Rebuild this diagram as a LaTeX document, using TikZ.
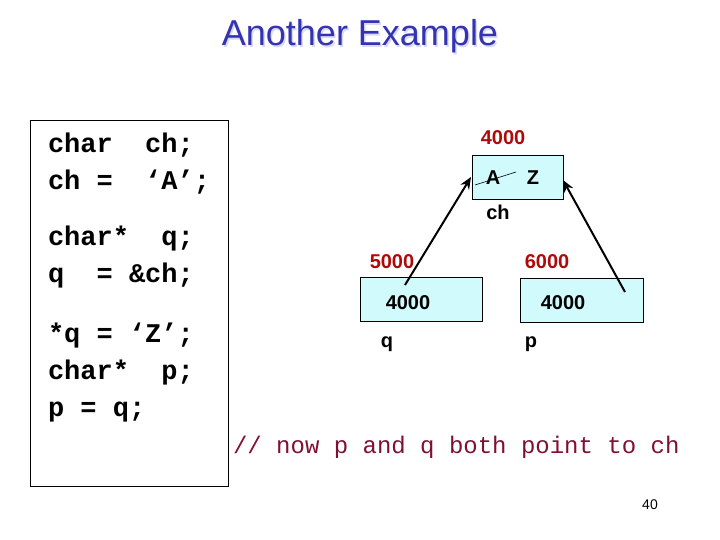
\documentclass[tikz,border=0pt]{standalone}
\usepackage{fontspec}
\setmainfont{Liberation Sans}
\newfontfamily\codefont{Liberation Mono}
\usetikzlibrary{arrows.meta}
\definecolor{titleblue}{RGB}{51,51,180}
\definecolor{addrred}{RGB}{175,10,10}
\definecolor{cellfill}{RGB}{208,250,252}
\definecolor{comment}{RGB}{128,16,48}
\tikzset{
  txt/.style={inner sep=0pt, outer sep=0pt},
  codeline/.style={txt, anchor=base west, font=\codefont\bfseries\fontsize{27}{30}\selectfont},
  lbl/.style={txt, anchor=base, font=\bfseries\fontsize{20}{24}\selectfont},
  addr/.style={lbl, text=addrred},
  cell/.style={draw=black, line width=0.8pt, fill=cellfill},
  ptr/.style={line width=2pt, -{Stealth[length=12pt,width=10pt,inset=4pt]}},
}
\begin{document}
\begin{tikzpicture}[x=1pt,y=-1pt]
\useasboundingbox (0,0) rectangle (720,540);
% title
\node[txt, anchor=base, text=titleblue!18, font=\fontsize{36}{40}\selectfont] at (361.5,47.5) {Another Example};
\node[txt, anchor=base, text=titleblue, font=\fontsize{36}{40}\selectfont] (title) at (360,46) {Another Example};
% code box
\node[draw=black, line width=0.8pt, minimum width=198pt, minimum height=366pt, anchor=north west, inner sep=0pt] (codebox) at (30,120) {};
\node[codeline] (c1) at (48,153) {char\ \ ch;};
\node[codeline] (c2) at (48,190) {ch =\ \ ‘A’;};
\node[codeline] (c3) at (48,245) {char*\ \ q;};
\node[codeline] (c4) at (48,282) {q\ \ = \&ch;};
\node[codeline] (c5) at (48,342) {*q = ‘Z’;};
\node[codeline] (c6) at (48,379) {char*\ \ p;};
\node[codeline] (c7) at (48,416) {p = q;};
% memory cells
\node[cell, minimum width=91pt, minimum height=44pt, anchor=north west, inner sep=0pt] (ch) at (472,155) {};
\node[cell, minimum width=122pt, minimum height=44pt, anchor=north west, inner sep=0pt] (q) at (360,277) {};
\node[cell, minimum width=123pt, minimum height=44pt, anchor=north west, inner sep=0pt] (p) at (520,278) {};
% labels
\node[addr] (chaddr) at (503,145) {4000};
\node[lbl] (oldA) at (493,185) {A};
\node[lbl] (newZ) at (533,185) {Z};
\coordinate (s1) at (475,185);
\coordinate (s2) at (516,172);
\draw[line width=0.6pt] (s1) -- (s2);
\node[lbl] (chname) at (498,220) {ch};
\node[addr] (qaddr) at (392,268) {5000};
\node[addr] (paddr) at (547,268) {6000};
\node[lbl] (qval) at (408,309) {4000};
\node[lbl] (pval) at (563,309) {4000};
\node[lbl] (qname) at (387,347) {q};
\node[lbl] (pname) at (531,347) {p};
% pointers
\coordinate (qs) at (405,285);
\coordinate (ps) at (625,292);
\coordinate (chl) at (471,177);
\coordinate (chr) at (563,180);
\draw[ptr] (qs) -- (chl);
\draw[ptr] (ps) -- (chr);
% comment
\node[txt, anchor=base west, text=comment, font=\codefont\fontsize{24}{28}\selectfont] (cmt) at (233,453) {// now p and q both point to ch};
% page number
\node[txt, anchor=base, font=\fontsize{14}{16}\selectfont] (pg) at (650,509) {40};
\end{tikzpicture}
\end{document}
